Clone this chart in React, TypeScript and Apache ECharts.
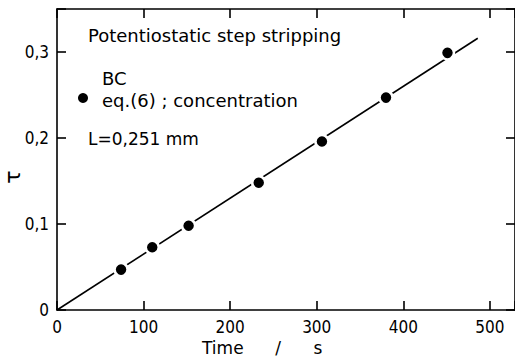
import React, { useEffect, useRef } from "react";
import * as echarts from "echarts";

const timeValues = [74, 110, 152, 233, 306, 380, 451];
const tauValues = [0.047, 0.073, 0.098, 0.148, 0.196, 0.247, 0.299];
const fitLine = [
  [0, 0],
  [486, 0.316],
];
const xTicks = [0, 100, 200, 300, 400, 500];
const yTicks = [0, 0.1, 0.2, 0.3];

const FONT = "'DejaVu Sans', sans-serif";
const TICKFONT = "'DejaVu Sans Condensed', 'DejaVu Sans', sans-serif";

const mkLine = () => ({ show: true, onZero: false, lineStyle: { color: "#000", width: 1.6 } });
const mkTick = () => ({ show: true, inside: true, length: 9, lineStyle: { color: "#000", width: 1.6 } });

export default function App() {
  const ref = useRef<HTMLDivElement>(null);
  useEffect(() => {
    if (!ref.current) return;
    const chart = echarts.init(ref.current, null, { renderer: "svg" });
    chart.setOption({
      animation: false,
      backgroundColor: "#fff",
      grid: { left: 57, top: 9, right: 0, bottom: 48, containLabel: false, outerBoundsMode: "none" },
      xAxis: [
        {
          type: "value",
          min: 0,
          max: 529,
          interval: 100,
          axisLine: mkLine(),
          axisTick: mkTick(),
          splitLine: { show: false },
          axisLabel: {
            color: "#000",
            fontFamily: TICKFONT,
            fontSize: 17,
            margin: 8,
            formatter: (v: number) => (xTicks.includes(v) ? String(v) : ""),
          },
        },
        {
          type: "value",
          position: "top",
          min: 0,
          max: 529,
          interval: 100,
          axisLine: mkLine(),
          axisTick: mkTick(),
          splitLine: { show: false },
          axisLabel: { show: false },
        },
      ],
      yAxis: [
        {
          type: "value",
          min: 0,
          max: 0.35,
          interval: 0.1,
          axisLine: mkLine(),
          axisTick: mkTick(),
          splitLine: { show: false },
          axisLabel: {
            color: "#000",
            fontFamily: TICKFONT,
            fontSize: 17,
            margin: 8,
            formatter: (v: number) => {
              const t = yTicks.find((y) => Math.abs(y - v) < 1e-9);
              if (t === undefined) return "";
              return t === 0 ? "0" : t.toFixed(1).replace(".", ",");
            },
          },
        },
        {
          type: "value",
          position: "right",
          min: 0,
          max: 0.35,
          interval: 0.1,
          axisLine: mkLine(),
          axisTick: mkTick(),
          splitLine: { show: false },
          axisLabel: { show: false },
        },
      ],
      series: [
        {
          type: "line",
          data: fitLine,
          symbol: "none",
          lineStyle: { color: "#000", width: 1.6 },
          z: 2,
        },
        {
          type: "scatter",
          data: timeValues.map((t, i) => [t, tauValues[i]]),
          symbol: "circle",
          symbolSize: 13,
          itemStyle: { color: "#000", borderColor: "#fff", borderWidth: 2.5, opacity: 1 },
          z: 3,
        },
      ],
      graphic: [
        {
          type: "text",
          x: 88,
          y: 35,
          style: { text: "Potentiostatic step stripping", fill: "#000", font: `18px ${FONT}`, verticalAlign: "middle" },
        },
        {
          type: "text",
          x: 102,
          y: 78.5,
          style: { text: "BC", fill: "#000", font: `18px ${FONT}`, verticalAlign: "middle" },
        },
        {
          type: "circle",
          shape: { cx: 83, cy: 98, r: 5 },
          style: { fill: "#000" },
        },
        {
          type: "text",
          x: 102,
          y: 100,
          style: { text: "eq.(6) ; concentration", fill: "#000", font: `18px ${FONT}`, verticalAlign: "middle" },
        },
        {
          type: "text",
          x: 88,
          y: 138.5,
          style: { text: "L=0,251 mm", fill: "#000", font: `17px ${FONT}`, verticalAlign: "middle" },
        },
        {
          type: "text",
          x: 202,
          y: 348,
          style: { text: "Time", fill: "#000", font: `17px ${FONT}`, verticalAlign: "middle" },
        },
        {
          type: "text",
          x: 278,
          y: 348,
          style: { text: "/", fill: "#000", font: `17px ${FONT}`, verticalAlign: "middle", align: "center" },
        },
        {
          type: "text",
          x: 318,
          y: 348,
          style: { text: "s", fill: "#000", font: `17px ${FONT}`, verticalAlign: "middle", align: "center" },
        },
        {
          type: "text",
          x: 12,
          y: 177,
          rotation: Math.PI / 2,
          style: { text: "τ", fill: "#000", font: `22px ${FONT}`, verticalAlign: "middle", align: "center" },
        },
      ],
    });
    return () => chart.dispose();
  }, []);
  return <div ref={ref} style={{ width: 515, height: 358, position: "absolute", left: 0, top: 0 }} />;
}
